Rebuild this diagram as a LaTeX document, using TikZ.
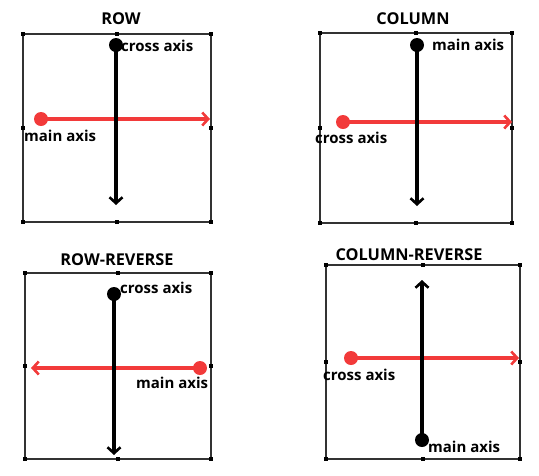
\documentclass[tikz,border=0pt]{standalone}
\usepackage{fontspec}
\setmainfont{Open Sans}
\usetikzlibrary{arrows.meta}
\definecolor{axred}{HTML}{F23A3A}
\definecolor{boxgray}{HTML}{333333}
\tikzset{
  framebox/.style={draw=boxgray,line width=1.6pt},
  handle/.style={fill=black,minimum size=3.5pt,inner sep=0pt,rectangle},
  blackdot/.style={circle,fill=black,minimum size=14pt,inner sep=0pt},
  reddot/.style={circle,fill=axred,minimum size=14pt,inner sep=0pt},
  blackaxis/.style={draw=black,line width=3.4pt,-{Straight Barb[length=6pt,width=13pt,line width=2.6pt]}},
  redaxis/.style={draw=axred,line width=3.4pt,-{Straight Barb[length=6pt,width=13pt,line width=2.6pt]}},
  lbl/.style={font=\fontsize{15}{17}\selectfont\bfseries,inner sep=0pt,text=black},
  ttl/.style={font=\fontsize{16.3}{19}\selectfont\bfseries,inner sep=0pt,text=black}
}
\newcommand\FlexFrame[5]{%
  \draw[framebox] (#2,#3) rectangle (#4,#5);
  \foreach \hx/\hy/\hn in {#2/#3/a,#4/#3/b,#2/#5/c,#4/#5/d}{
    \node[handle] (#1-\hn) at (\hx,\hy) {};}
  \node[handle] (#1-t) at ({(#2+#4)/2},#3) {};
  \node[handle] (#1-bm) at ({(#2+#4)/2},#5) {};
  \node[handle] (#1-l) at (#2,{(#3+#5)/2}) {};
  \node[handle] (#1-r) at (#4,{(#3+#5)/2}) {};
}
\begin{document}
\begin{tikzpicture}[x=1pt,y=-1pt]
\useasboundingbox (0,0) rectangle (539,475);

% ---------- ROW ----------
\node[ttl] (t1) at (121,19) {ROW};
\FlexFrame{p1}{23}{34}{211}{222}
\coordinate (p1-ve) at (116,205);
\coordinate (p1-he) at (210,119);
\node[reddot] (p1-rd) at (41,119) {};
\draw[redaxis] (p1-rd.center) -- (p1-he);
\node[blackdot] (p1-bd) at (116,45) {};
\draw[blackaxis] (p1-bd.center) -- (p1-ve);
\node[lbl,anchor=west] (p1-cl) at (121,46) {cross axis};
\node[lbl,anchor=west] (p1-ml) at (24,136) {main axis};

% ---------- COLUMN ----------
\node[ttl] (t2) at (413,19) {COLUMN};
\FlexFrame{p2}{320}{33}{512}{223}
\coordinate (p2-ve) at (417,206);
\coordinate (p2-he) at (512,122);
\node[reddot] (p2-rd) at (343,122) {};
\draw[redaxis] (p2-rd.center) -- (p2-he);
\node[blackdot] (p2-bd) at (417,45) {};
\draw[blackaxis] (p2-bd.center) -- (p2-ve);
\node[lbl,anchor=west] (p2-ml) at (432,45) {main axis};
\node[lbl,anchor=west] (p2-cl) at (315,138) {cross axis};

% ---------- ROW-REVERSE ----------
\node[ttl] (t3) at (117,260) {ROW-REVERSE};
\FlexFrame{p3}{25}{273}{211}{459}
\coordinate (p3-ve) at (114,455);
\coordinate (p3-he) at (31,368);
\node[reddot] (p3-rd) at (200,368) {};
\draw[redaxis] (p3-rd.center) -- (p3-he);
\node[blackdot] (p3-bd) at (114,294) {};
\draw[blackaxis] (p3-bd.center) -- (p3-ve);
\node[lbl,anchor=west] (p3-cl) at (120,288) {cross axis};
\node[lbl,anchor=west] (p3-ml) at (136,383) {main axis};

% ---------- COLUMN-REVERSE ----------
\node[ttl] (t4) at (409,255) {COLUMN-REVERSE};
\FlexFrame{p4}{326}{265}{520}{459}
\coordinate (p4-ve) at (422,280);
\coordinate (p4-he) at (519,358);
\node[reddot] (p4-rd) at (351,358) {};
\draw[redaxis] (p4-rd.center) -- (p4-he);
\node[blackdot] (p4-bd) at (422,440) {};
\draw[blackaxis] (p4-bd.center) -- (p4-ve);
\node[lbl,anchor=west] (p4-cl) at (323,375) {cross axis};
\node[lbl,anchor=west] (p4-ml) at (428,447) {main axis};
\end{tikzpicture}
\end{document}
